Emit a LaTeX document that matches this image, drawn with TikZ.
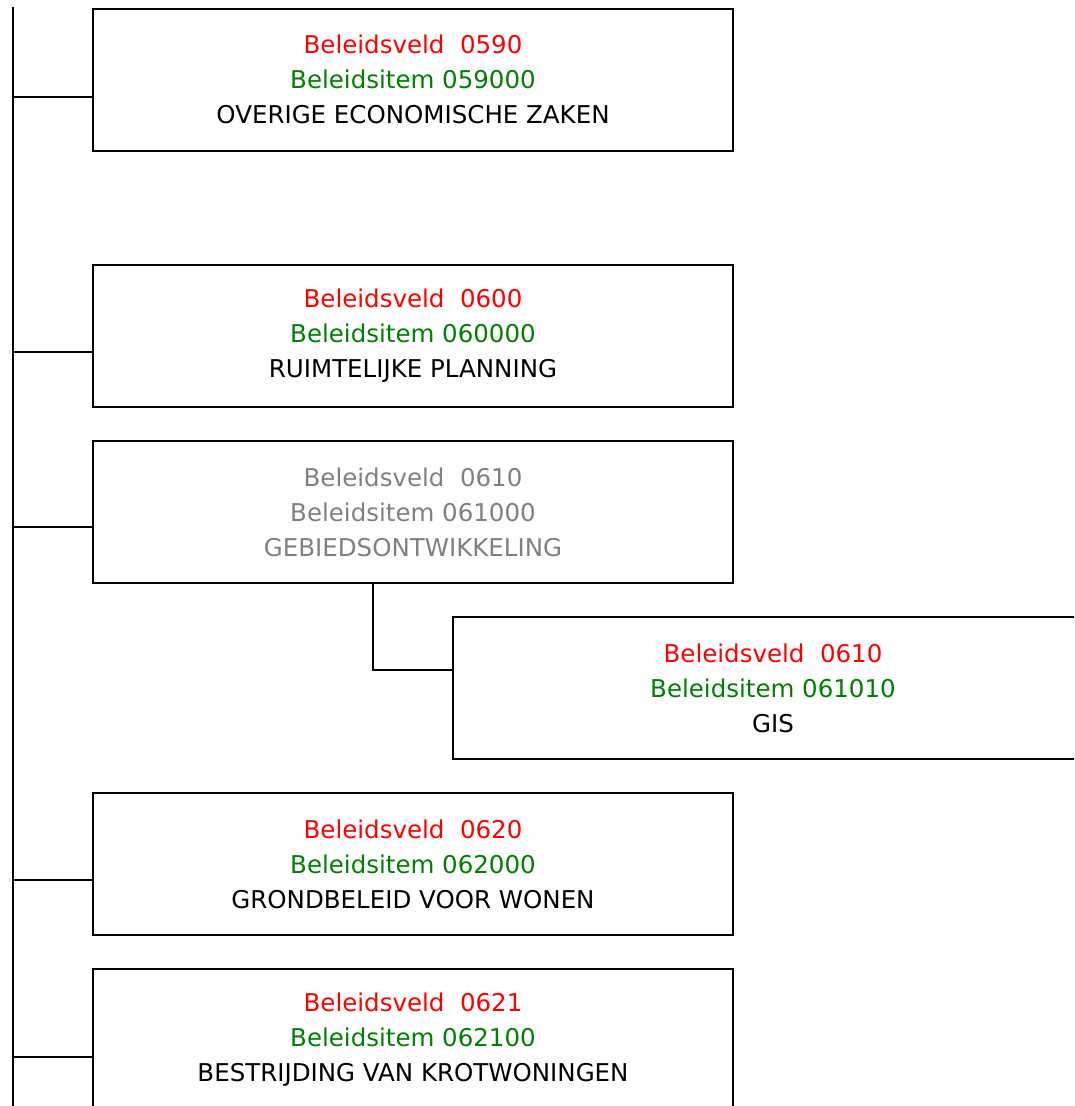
\documentclass[tikz,border=0pt]{standalone}
\usepackage{fontspec}
\setmainfont{DejaVu Sans}
\definecolor{veldred}{RGB}{255,0,0}
\definecolor{itemgreen}{RGB}{0,128,0}
\definecolor{inactgray}{RGB}{128,128,128}
\begin{document}
\begin{tikzpicture}[x=1pt,y=1pt,
  itembox/.style={draw=black, line width=2pt, minimum width=640pt, minimum height=142pt,
    align=center, inner sep=0pt, font=\fontsize{24.5}{35}\selectfont},
  conn/.style={draw=black, line width=2pt}]
\useasboundingbox (0,0) rectangle (1074,-1106);
\clip (0,0) rectangle (1074,-1106);
\node[itembox] (b1) at (413,-79.5) {\textcolor{veldred}{Beleidsveld\ \ 0590}\\\textcolor{itemgreen}{Beleidsitem 059000}\\OVERIGE ECONOMISCHE ZAKEN};
\node[itembox] (b2) at (413,-335.5) {\textcolor{veldred}{Beleidsveld\ \ 0600}\\\textcolor{itemgreen}{Beleidsitem 060000}\\RUIMTELIJKE PLANNING};
\node[itembox, text=inactgray] (b3) at (413,-512) {Beleidsveld\ \ 0610\\Beleidsitem 061000\\GEBIEDSONTWIKKELING};
\node[itembox] (b6) at (773,-688) {\textcolor{veldred}{Beleidsveld\ \ 0610}\\\textcolor{itemgreen}{Beleidsitem 061010}\\GIS};
\node[itembox] (b4) at (413,-864) {\textcolor{veldred}{Beleidsveld\ \ 0620}\\\textcolor{itemgreen}{Beleidsitem 062000}\\GRONDBELEID VOOR WONEN};
\node[itembox] (b5) at (413,-1040) {\textcolor{veldred}{Beleidsveld\ \ 0621}\\\textcolor{itemgreen}{Beleidsitem 062100}\\BESTRIJDING VAN KROTWONINGEN};
\coordinate (top) at (13,-7);
\coordinate (bot) at (13,-1110);
\draw[conn] (top) -- (bot);
\coordinate (c1) at (13,-97);
\coordinate (c2) at (13,-352);
\coordinate (c3) at (13,-527);
\coordinate (c4) at (13,-880);
\coordinate (c5) at (13,-1057);
\foreach \i in {1,...,5} { \draw[conn] (c\i) -- (c\i -| b\i.west); }
\coordinate (k) at (373,-670);
\draw[conn] (k |- b3.south) -- (k) -- (k -| b6.west);
\end{tikzpicture}
\end{document}
